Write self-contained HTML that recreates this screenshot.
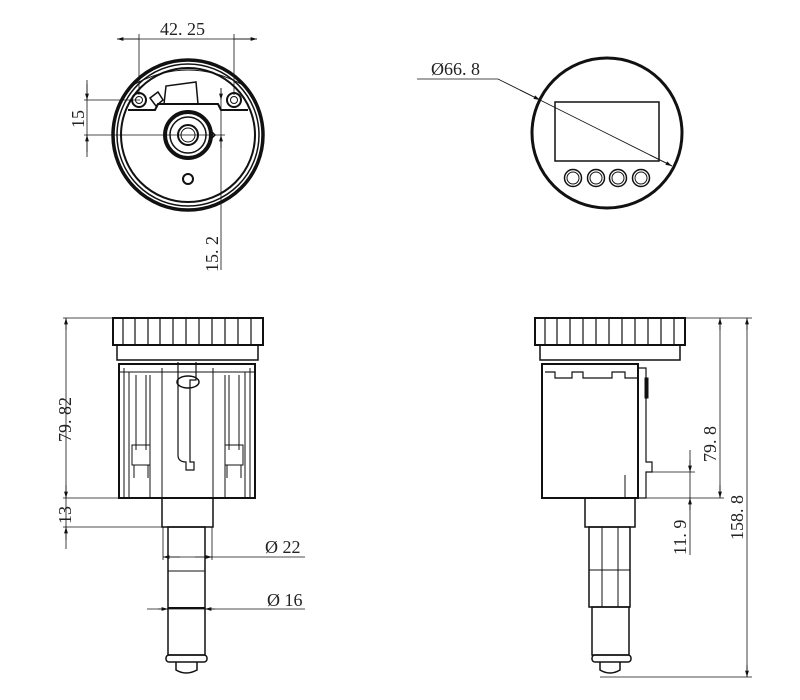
<!DOCTYPE html>
<html><head><meta charset="utf-8"><style>
html,body{margin:0;padding:0;background:#fff;}
svg{display:block;}
text{font-family:"Liberation Serif",serif;font-size:18px;fill:#222;}
</style></head><body>
<svg width="800" height="700" viewBox="0 0 800 700" xmlns="http://www.w3.org/2000/svg">
<defs>
<marker id="a" viewBox="0 0 10 10" refX="10" refY="5" markerWidth="8" markerHeight="8" orient="auto-start-reverse"><path d="M0,2 L10,5 L0,8 z" fill="#111"/></marker>
</defs>
<g fill="none" stroke="#111" stroke-width="1">
<!-- TOP LEFT -->
<circle cx="188" cy="135" r="75" stroke-width="3.5"/>
<circle cx="188" cy="135" r="71" stroke-width="1.5"/>
<circle cx="188" cy="135" r="67" stroke-width="2"/>
<path d="M128,110 L155,110 L158,104 L218,104 L221,110 L248,110" stroke-width="2"/>
<path d="M164,104 L166,86 L196,82 L198,104 Z" stroke-width="1.5"/>
<path d="M150,98 L158,92 L163,100 L156,106 Z" stroke-width="1.5"/>
<path d="M133,85 Q188,55 243,85" stroke-width="1"/>
<circle cx="139" cy="100" r="7" stroke-width="2"/><circle cx="139" cy="100" r="3.5"/>
<circle cx="234" cy="100" r="7" stroke-width="2"/><circle cx="234" cy="100" r="3.5"/>
<circle cx="188" cy="135" r="23" stroke-width="4"/>
<circle cx="188" cy="135" r="18" stroke-width="1.5"/>
<circle cx="188" cy="135" r="10" stroke-width="2"/>
<circle cx="188" cy="135" r="7"/>
<path d="M211,131 L215,135 L211,139" stroke-width="1.5"/>
<circle cx="188" cy="179" r="5" stroke-width="2"/>
<line x1="117" y1="39" x2="257" y2="39" stroke-width="0.8"/>
<line x1="139" y1="39" x2="117" y2="39" marker-end="url(#a)" stroke-width="0.8"/>
<line x1="234" y1="39" x2="257" y2="39" marker-end="url(#a)" stroke-width="0.8"/>
<line x1="139" y1="34" x2="139" y2="95" stroke-width="0.8"/>
<line x1="234" y1="34" x2="234" y2="95" stroke-width="0.8"/>
<line x1="87" y1="80" x2="87" y2="157" stroke-width="0.8"/>
<line x1="87" y1="84" x2="87" y2="100" marker-end="url(#a)" stroke-width="0.8"/>
<line x1="87" y1="152" x2="87" y2="135" marker-end="url(#a)" stroke-width="0.8"/>
<line x1="84" y1="100" x2="140" y2="100" stroke-width="0.8"/>
<line x1="84" y1="135" x2="225" y2="135" stroke-width="0.8"/>
<line x1="221" y1="88" x2="221" y2="270" stroke-width="0.8"/>
<line x1="221" y1="88" x2="221" y2="100" marker-end="url(#a)" stroke-width="0.8"/>
<line x1="221" y1="148" x2="221" y2="135" marker-end="url(#a)" stroke-width="0.8"/>
<!-- TOP RIGHT -->
<circle cx="607" cy="133" r="75" stroke-width="3"/>
<rect x="555" y="102" width="104" height="59" stroke-width="1.5"/>
<circle cx="573" cy="178" r="8.5" stroke-width="1.5"/><circle cx="573" cy="178" r="6"/>
<circle cx="596" cy="178" r="8.5" stroke-width="1.5"/><circle cx="596" cy="178" r="6"/>
<circle cx="618" cy="178" r="8.5" stroke-width="1.5"/><circle cx="618" cy="178" r="6"/>
<circle cx="641" cy="178" r="8.5" stroke-width="1.5"/><circle cx="641" cy="178" r="6"/>
<path d="M417,79 L498,79 L540,100" stroke-width="0.8"/>
<line x1="520" y1="90" x2="540" y2="100" marker-end="url(#a)" stroke-width="0.8"/>
<line x1="540" y1="100" x2="672" y2="166" stroke-width="0.8"/>
<line x1="650" y1="155" x2="672" y2="166" marker-end="url(#a)" stroke-width="0.8"/>
<!-- BOTTOM LEFT -->
<rect x="113" y="318" width="150" height="27" stroke-width="2"/>
<g stroke-width="1.2">
<line x1="123" y1="318" x2="123" y2="345"/><line x1="135" y1="318" x2="135" y2="345"/><line x1="148" y1="318" x2="148" y2="345"/><line x1="160" y1="318" x2="160" y2="345"/><line x1="173" y1="318" x2="173" y2="345"/><line x1="186" y1="318" x2="186" y2="345"/><line x1="199" y1="318" x2="199" y2="345"/><line x1="212" y1="318" x2="212" y2="345"/><line x1="225" y1="318" x2="225" y2="345"/><line x1="238" y1="318" x2="238" y2="345"/><line x1="251" y1="318" x2="251" y2="345"/>
</g>
<rect x="117" y="345" width="141" height="15" stroke-width="1.5"/>
<rect x="119" y="364" width="136" height="134" stroke-width="2"/>
<line x1="162" y1="368" x2="162" y2="498"/><line x1="213" y1="368" x2="213" y2="498"/>
<line x1="119" y1="372" x2="255" y2="372"/>
<line x1="129" y1="372" x2="129" y2="498"/><line x1="245" y1="372" x2="245" y2="498"/>
<line x1="124" y1="368" x2="124" y2="498"/><line x1="250" y1="368" x2="250" y2="498"/>
<line x1="150" y1="375" x2="150" y2="498"/><line x1="225" y1="375" x2="225" y2="498"/>
<line x1="136" y1="375" x2="136" y2="450"/><line x1="146" y1="375" x2="146" y2="450"/>
<line x1="229" y1="375" x2="229" y2="450"/><line x1="239" y1="375" x2="239" y2="450"/>
<rect x="132" y="445" width="18" height="20"/><rect x="225" y="445" width="18" height="20"/>
<line x1="134" y1="465" x2="134" y2="478"/><line x1="148" y1="465" x2="148" y2="478"/>
<line x1="227" y1="465" x2="227" y2="478"/><line x1="241" y1="465" x2="241" y2="478"/>
<path d="M178,362 L178,455 Q178,462 186,462 L186,470 L194,470 L194,462 L190,462 L190,380 L196,380 L196,362" stroke-width="1.2"/>
<ellipse cx="188" cy="382" rx="11" ry="6" stroke-width="1.5"/>
<rect x="162" y="498" width="51" height="29" stroke-width="1.5"/>
<rect x="168" y="527" width="37" height="128" stroke-width="1.5"/>
<line x1="168" y1="571" x2="205" y2="571"/>
<line x1="168" y1="608" x2="205" y2="608" stroke-width="2"/>
<rect x="166" y="655" width="41" height="7" rx="3" stroke-width="1.5"/>
<path d="M176,662 L176,670 Q186,676 197,670 L197,662" stroke-width="1.5"/>
<line x1="63" y1="318" x2="113" y2="318" stroke-width="0.8"/>
<line x1="63" y1="498" x2="120" y2="498" stroke-width="0.8"/>
<line x1="63" y1="527" x2="170" y2="527" stroke-width="0.8"/>
<line x1="66" y1="318" x2="66" y2="549" stroke-width="0.8"/>
<line x1="66" y1="330" x2="66" y2="318" marker-end="url(#a)" stroke-width="0.8"/>
<line x1="66" y1="485" x2="66" y2="498" marker-end="url(#a)" stroke-width="0.8"/>
<line x1="66" y1="540" x2="66" y2="527" marker-end="url(#a)" stroke-width="0.8"/>
<line x1="163" y1="527" x2="163" y2="560" stroke-width="0.8"/>
<line x1="212" y1="527" x2="212" y2="560" stroke-width="0.8"/>
<line x1="163" y1="557" x2="305" y2="557" stroke-width="0.8"/>
<line x1="180" y1="557" x2="163" y2="557" marker-end="url(#a)" stroke-width="0.8"/>
<line x1="195" y1="557" x2="212" y2="557" marker-end="url(#a)" stroke-width="0.8"/>
<line x1="147" y1="609" x2="305" y2="609" stroke-width="0.8"/>
<line x1="158" y1="609" x2="168" y2="609" marker-end="url(#a)" stroke-width="0.8"/>
<line x1="215" y1="609" x2="205" y2="609" marker-end="url(#a)" stroke-width="0.8"/>
<!-- BOTTOM RIGHT -->
<rect x="535" y="318" width="150" height="27" stroke-width="2"/>
<g stroke-width="1.2">
<line x1="545" y1="318" x2="545" y2="345"/><line x1="557" y1="318" x2="557" y2="345"/><line x1="570" y1="318" x2="570" y2="345"/><line x1="583" y1="318" x2="583" y2="345"/><line x1="596" y1="318" x2="596" y2="345"/><line x1="609" y1="318" x2="609" y2="345"/><line x1="622" y1="318" x2="622" y2="345"/><line x1="635" y1="318" x2="635" y2="345"/><line x1="648" y1="318" x2="648" y2="345"/><line x1="661" y1="318" x2="661" y2="345"/><line x1="674" y1="318" x2="674" y2="345"/>
</g>
<rect x="540" y="345" width="140" height="15" stroke-width="1.5"/>
<rect x="542" y="364" width="96" height="134" stroke-width="2"/>
<path d="M545,372 L555,372 L555,378 L572,378 L572,372 L583,372 L583,378 L612,378 L612,372 L625,372 L625,378 L638,378" stroke-width="1.2"/>
<path d="M638,368 L646,368 L646,462 L652,462 L652,472 L646,472 L646,498 L638,498" stroke-width="1.2"/>
<line x1="625" y1="475" x2="625" y2="498"/>
<rect x="645" y="378" width="3" height="20" fill="#111"/>
<rect x="585" y="498" width="50" height="29" stroke-width="1.5"/>
<rect x="589" y="527" width="41" height="80" stroke-width="1.5"/>
<line x1="602" y1="527" x2="602" y2="607"/><line x1="618" y1="527" x2="618" y2="607"/>
<line x1="589" y1="570" x2="630" y2="570"/>
<rect x="592" y="607" width="37" height="48" stroke-width="1.5"/>
<rect x="592" y="655" width="39" height="7" rx="3" stroke-width="1.5"/>
<path d="M600,662 L600,670 Q610,676 620,670 L620,662" stroke-width="1.5"/>
<line x1="685" y1="318" x2="752" y2="318" stroke-width="0.8"/>
<line x1="640" y1="498" x2="724" y2="498" stroke-width="0.8"/>
<line x1="648" y1="472" x2="695" y2="472" stroke-width="0.8"/>
<line x1="600" y1="677" x2="752" y2="677" stroke-width="0.8"/>
<line x1="720" y1="318" x2="720" y2="498" stroke-width="0.8"/>
<line x1="720" y1="330" x2="720" y2="318" marker-end="url(#a)" stroke-width="0.8"/>
<line x1="720" y1="485" x2="720" y2="498" marker-end="url(#a)" stroke-width="0.8"/>
<line x1="747" y1="318" x2="747" y2="677" stroke-width="0.8"/>
<line x1="747" y1="330" x2="747" y2="318" marker-end="url(#a)" stroke-width="0.8"/>
<line x1="747" y1="665" x2="747" y2="677" marker-end="url(#a)" stroke-width="0.8"/>
<line x1="690" y1="450" x2="690" y2="555" stroke-width="0.8"/>
<line x1="690" y1="460" x2="690" y2="472" marker-end="url(#a)" stroke-width="0.8"/>
<line x1="690" y1="510" x2="690" y2="498" marker-end="url(#a)" stroke-width="0.8"/>
</g>
<text x="160" y="35">42. 25</text>
<text transform="translate(84,128) rotate(-90)">15</text>
<text transform="translate(218,272) rotate(-90)">15. 2</text>
<text x="431" y="75">Ø66. 8</text>
<text transform="translate(71,442) rotate(-90)">79. 82</text>
<text transform="translate(71,524) rotate(-90)">13</text>
<text x="265" y="553">Ø 22</text>
<text x="267" y="606">Ø 16</text>
<text transform="translate(716,462) rotate(-90)">79. 8</text>
<text transform="translate(743,540) rotate(-90)">158. 8</text>
<text transform="translate(686,555) rotate(-90)">11. 9</text>
</svg>
</body></html>
